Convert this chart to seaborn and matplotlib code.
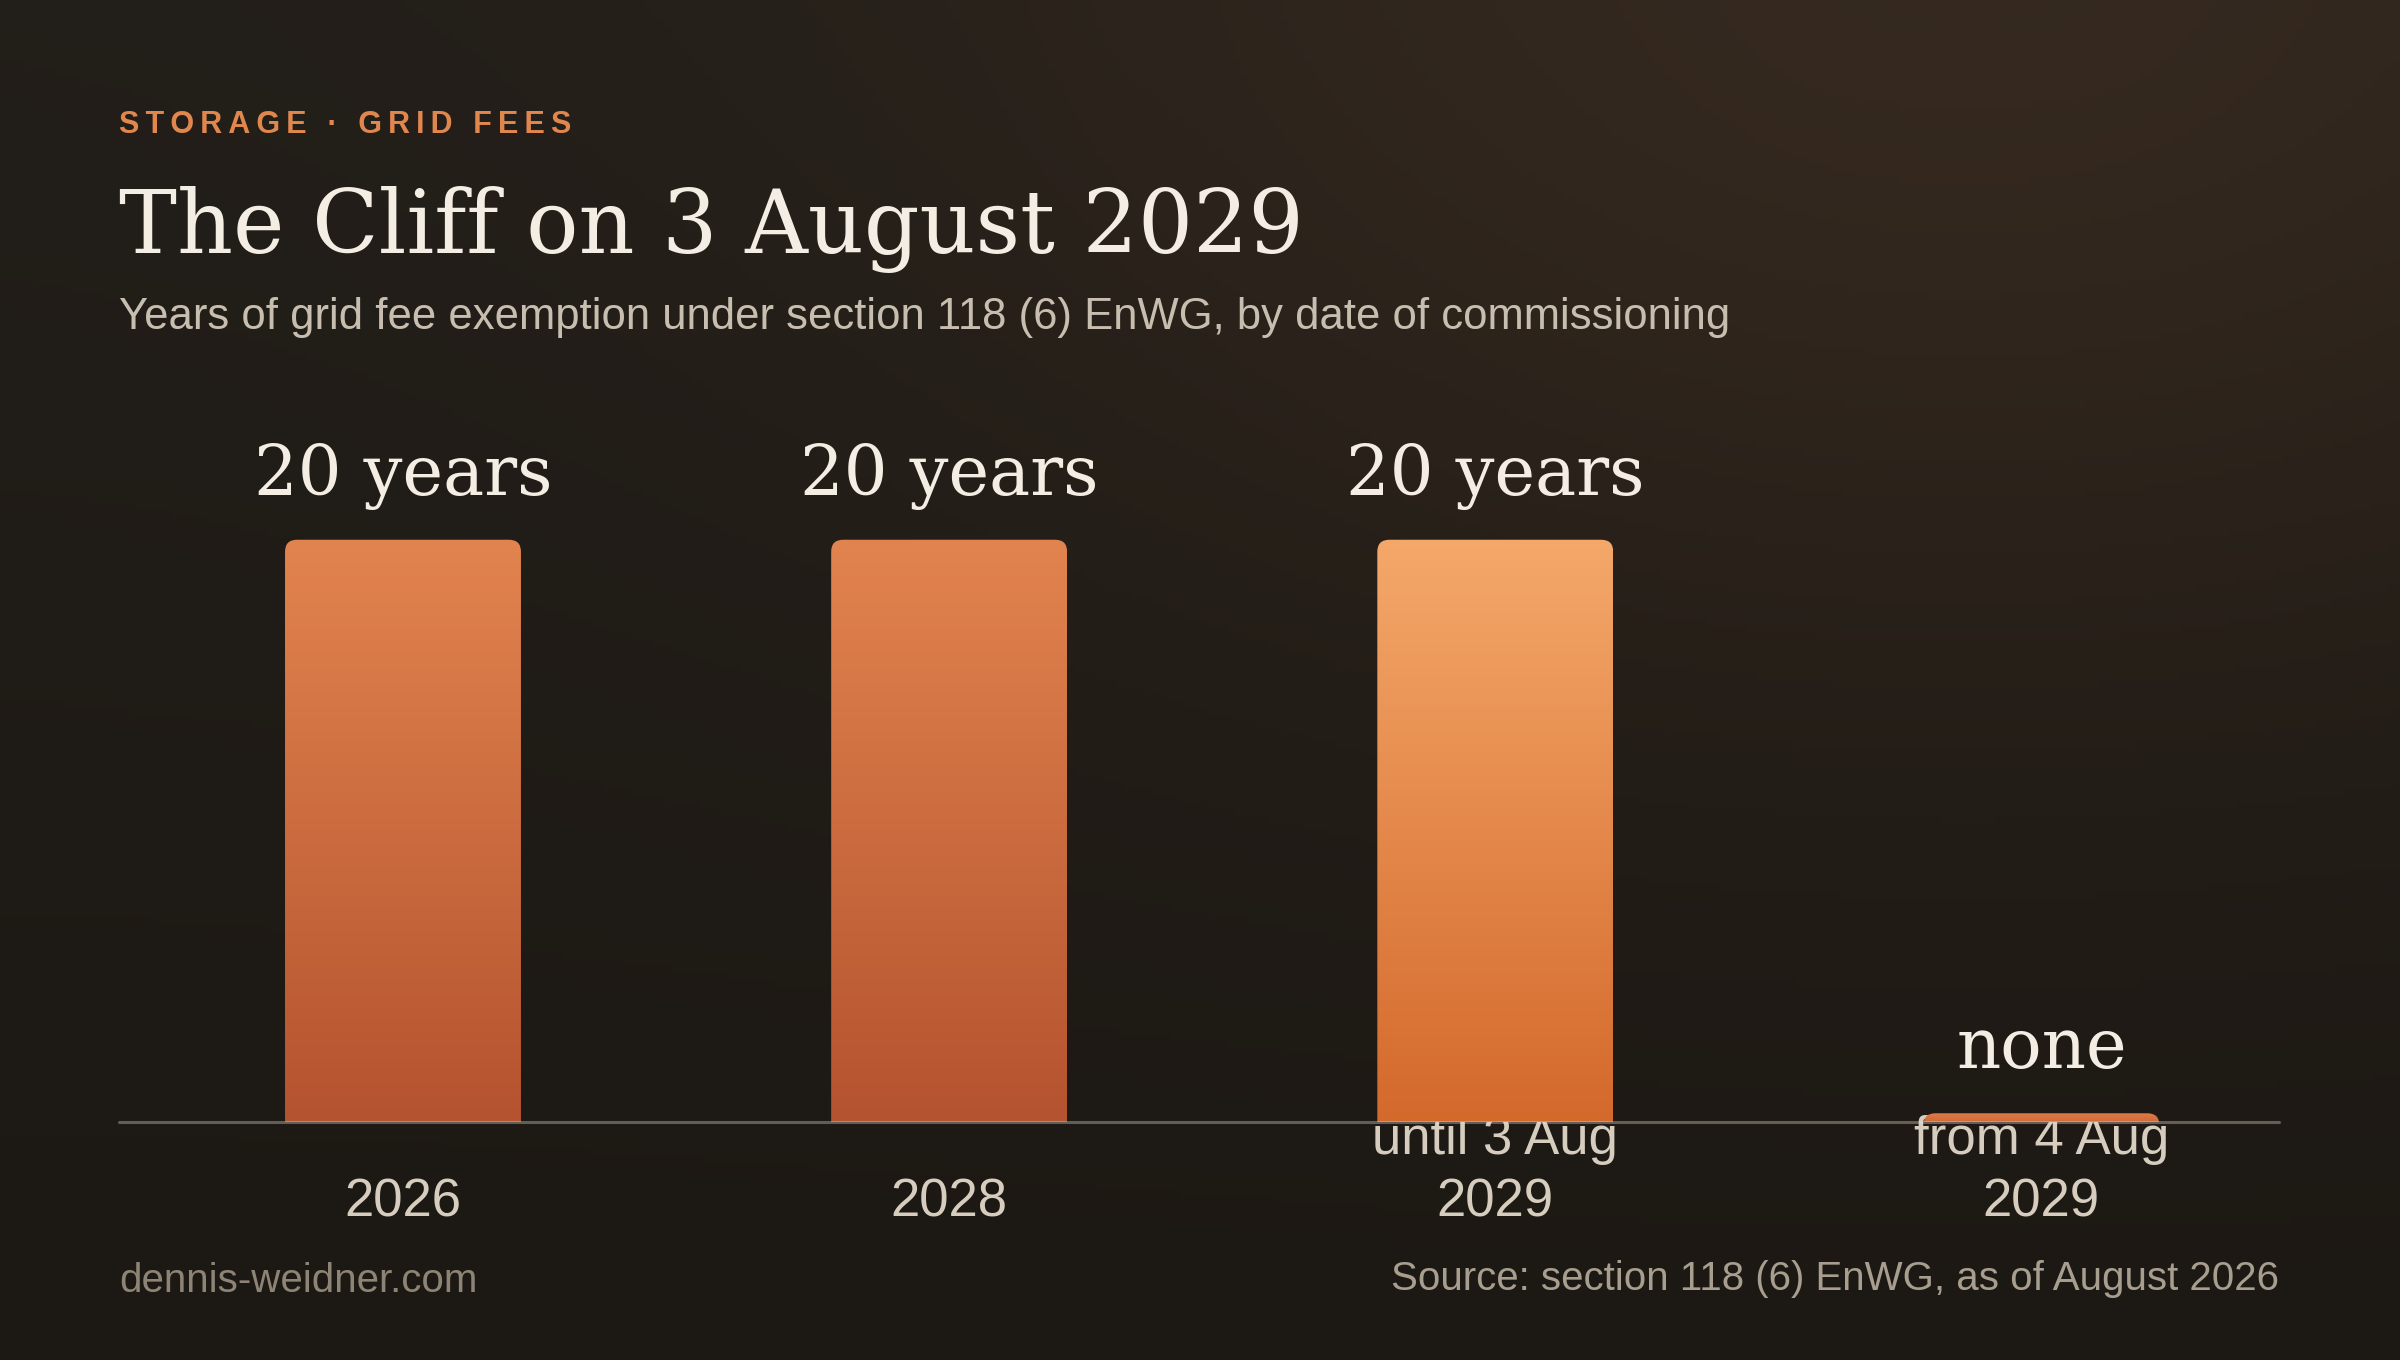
import numpy as np
import matplotlib
matplotlib.use("Agg")
import matplotlib.pyplot as plt
from matplotlib.patches import FancyBboxPatch
from matplotlib.colors import to_rgb
import seaborn as sns

# data
periods = ["2026", "2028", "until 3 Aug\n2029", "from 4 Aug\n2029"]
years = [20, 20, 20, 0]
value_labels = ["20 years", "20 years", "20 years", "none"]
highlight = [False, False, True, False]

kicker = "STORAGE · GRID FEES"
title = "The Cliff on 3 August 2029"
subtitle = "Years of grid fee exemption under section 118 (6) EnWG, by date of commissioning"
footer_left = "dennis-weidner.com"
footer_right = "Source: section 118 (6) EnWG, as of August 2026"

SANS = ["Liberation Sans", "DejaVu Sans"]
SERIF = ["DejaVu Serif"]
STUB = 0.3  # minimum drawn height so a zero still shows a sliver

sns.set_theme(style="white")
plt.rcParams["font.family"] = SANS

W, H = 2400, 1360
fig = plt.figure(figsize=(12, 6.8), dpi=200)

# background: dark with warm glow top right
bg = fig.add_axes([0, 0, 1, 1], zorder=-10)
yy, xx = np.mgrid[0:1:200j, 0:1:350j]
top, bot = np.array(to_rgb("#221e19")), np.array(to_rgb("#1c1813"))
base = bot + (top - bot) * (1 - yy)[..., None]
d2 = ((xx - 0.82) / 0.42) ** 2 + ((yy - 0.0) / 0.5) ** 2
glow = np.exp(-d2)[..., None] * np.array([0.075, 0.044, 0.026])
bg.imshow(np.clip(base + glow, 0, 1), extent=(0, 1, 0, 1), origin="upper", aspect="auto")
bg.axis("off")

ax_left, ax_w = 119 / W, 2160 / W
ax_bot, ax_h = 238 / H, 722 / H
ax = fig.add_axes([ax_left, ax_bot, ax_w, ax_h])
ax.set_facecolor("none")

heights = [max(v, STUB) for v in years]
sns.barplot(x=periods, y=heights, width=0.432, color="#c8612f", ax=ax)
XLIM = (-0.52, 3.435)
ax.set_xlim(*XLIM)
ax.set_ylim(0, 24.8)

p0 = ax.transData.transform((0, 0))
p1 = ax.transData.transform((1, 1))
aspect = (p1[0] - p0[0]) / (p1[1] - p0[1])
r = 12 / (p1[0] - p0[0])

for i, bar in enumerate(ax.patches):
    x0, w, h = bar.get_x(), bar.get_width(), bar.get_height()
    bar.set_visible(False)
    if highlight[i]:
        c_top, c_bot = "#f4a86a", "#d4692c"
    elif years[i] == 0:
        c_top, c_bot = "#e07a45", "#cf6a3a"
    else:
        c_top, c_bot = "#e2844f", "#b4532f"
    box = FancyBboxPatch((x0, -1), w, h + 1,
                         boxstyle=f"round,pad=0,rounding_size={r}",
                         mutation_aspect=aspect, facecolor="none", edgecolor="none")
    ax.add_patch(box)
    grad = np.linspace(np.array(to_rgb(c_top)), np.array(to_rgb(c_bot)), 256)[:, None, :]
    im = ax.imshow(grad, extent=(x0, x0 + w, 0, h), origin="upper", aspect="auto", zorder=2)
    im.set_clip_path(box)
    ax.annotate(value_labels[i], (x0 + w / 2, h), xytext=(0, 16.2), textcoords="offset points",
                ha="center", va="baseline", fontsize=24.8, color="#f4ede3", family=SERIF, zorder=4)

ax.set_xlim(*XLIM)
ax.set_ylim(0, 24.8)
ax.axhline(0, color="#e8dfd0", alpha=0.35, lw=1.1, zorder=3, clip_on=False)

sns.despine(ax=ax, left=True, bottom=True)
ax.set_yticks([])
ax.set_ylabel("")
ax.set_xlabel("")
ax.tick_params(axis="x", length=0, pad=34, labelsize=19, labelcolor="#d6cdbf")
for t in ax.get_xticklabels():
    t.set_verticalalignment("baseline")
    t.set_linespacing(1.33)
    t.set_family(SANS)

# header
fig.text(119 / W, 1 - 133 / H, "\u2009".join(kicker), fontsize=11, fontweight="bold",
         color="#e0874e", family=SANS, va="baseline")
fig.text(119 / W, 1 - 253 / H, title, fontsize=31.3, color="#f4ede3", family=SERIF, va="baseline")
fig.text(119 / W, 1 - 329 / H, subtitle, fontsize=15.7, color="#c8beb0", family=SANS, va="baseline")

# footer
fig.text(119 / W, 1 - 1292 / H, footer_left, fontsize=14.5, color="#8e8476", family=SANS, va="baseline")
fig.text(2279 / W, 1 - 1290 / H, footer_right, fontsize=14.5, color="#a89e8f", family=SANS,
         va="baseline", ha="right")

fig.savefig("out.png", dpi=200)
